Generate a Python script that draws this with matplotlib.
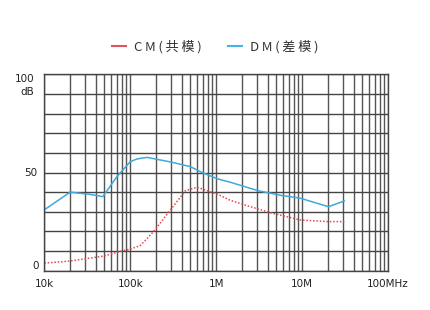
import matplotlib
matplotlib.use("Agg")
import matplotlib.pyplot as plt
import numpy as np

# Data
dm_freq = [10e3, 20e3, 35e3, 48e3, 70e3, 100e3, 120e3, 157e3, 300e3, 500e3, 656e3,
           1.03e6, 1.47e6, 3.1e6, 5.6e6, 9.6e6, 12.6e6, 20.3e6, 31e6]
dm_db = [31, 40, 38.8, 37.7, 47.9, 55.5, 56.9, 57.7, 55.3, 53, 50.4,
         46.8, 45.0, 40.7, 38.4, 36.9, 35.3, 32.6, 35.5]

cm_freq = [10e3, 20e3, 50e3, 76e3, 100e3, 131e3, 187e3, 293e3, 438e3, 600e3,
           1.03e6, 1.47e6, 2.5e6, 4.3e6, 9.6e6, 20e6, 31e6]
cm_db = [3.9, 4.9, 7.5, 9.8, 11.0, 12.8, 19.9, 30.9, 40.7, 42.5,
         39.0, 35.8, 32.6, 29.5, 25.8, 25.0, 25.0]

series_labels = ["CM(共模)", "DM(差模)"]
x_ticks = [1e4, 1e5, 1e6, 1e7, 1e8]
x_labels = ["10k", "100k", "1M", "10M", "100MHz"]

W, H = 431, 310
fig = plt.figure(figsize=(W / 100, H / 100), dpi=100)
ax = fig.add_axes([44.3 / W, 1 - 270.7 / H, (388 - 44.3) / W, (270.7 - 74.3) / H])

ax.set_xscale("log")
ax.set_xlim(1e4, 1e8)
ax.set_ylim(0, 100)

ax.set_xticks(x_ticks)
ax.set_xticklabels(x_labels)
ax.xaxis.set_minor_locator(matplotlib.ticker.LogLocator(base=10, subs=np.arange(2, 10)))
ax.xaxis.set_minor_formatter(matplotlib.ticker.NullFormatter())
ax.set_yticks(np.arange(0, 101, 10))
ax.set_yticklabels(["" if v != 50 else "50" for v in range(0, 101, 10)])

ax.grid(True, which="both", axis="x", color="#555555", lw=1.0)
ax.grid(True, which="major", axis="y", color="#444444", lw=1.0)
ax.tick_params(which="both", length=0, labelsize=7.5, colors="#222222", pad=6)
ax.tick_params(axis="y", pad=5)
for s in ax.spines.values():
    s.set_color("#444444")
    s.set_linewidth(1.0)
ax.set_axisbelow(True)

ax.plot(cm_freq, cm_db, color="#e8474f", lw=1.1, ls=(0, (1, 1.2)))
ax.plot(dm_freq, dm_db, color="#3fa9dc", lw=1.1)

# custom y labels
fig.text(34 / W, 1 - 79 / H, "100", ha="right", va="center", fontsize=7.5, color="#222222")
fig.text(34 / W, 1 - 92 / H, "dB", ha="right", va="center", fontsize=7.5, color="#222222")
fig.text(39 / W, 1 - 266 / H, "0", ha="right", va="center", fontsize=7.5, color="#222222")

leg_handles = [
    matplotlib.lines.Line2D([], [], color="#e0555a", lw=1.5),
    matplotlib.lines.Line2D([], [], color="#4ab3e3", lw=1.5),
]
spaced = ["\u2009".join(lbl) for lbl in series_labels]
fig.legend(leg_handles, spaced, loc="center", bbox_to_anchor=(0.5, 1 - 47 / H),
           ncol=2, frameon=False, handlelength=1.05, handletextpad=0.6, columnspacing=2.0,
           prop={"family": ["Noto Sans CJK SC", "DejaVu Sans"], "size": 9.5}, labelcolor="#333333")

fig.savefig("out.png", dpi=100)
